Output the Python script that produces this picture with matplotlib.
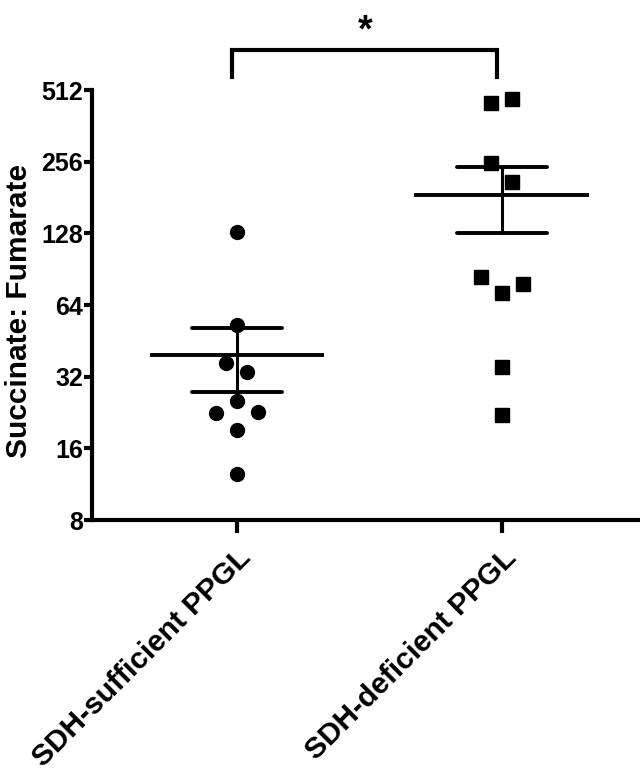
import numpy as np
import matplotlib.pyplot as plt

plt.rcParams['font.family'] = ['Liberation Sans', 'DejaVu Sans']
plt.rcParams['font.weight'] = 'bold'

groups = ["SDH-sufficient PPGL", "SDH-deficient PPGL"]
sdh_sufficient = [130, 52.7, 36.6, 33.6, 25.4, 22.5, 22.7, 19.1, 12.5]
sdh_deficient = [450, 468, 253, 210, 83.6, 71.7, 78.2, 35, 22.1]
yticks = [8, 16, 32, 64, 128, 256, 512]

# horizontal spread of the points (in steps)
jitter1 = [0, 0, -0.5, 0.5, 0, -1, 1, 0, 0]
jitter2 = [-0.5, 0.5, -0.5, 0.5, -1, 0, 1, 0, 0]
step = 0.079

fig = plt.figure(figsize=(6.4, 7.77), dpi=100)
ax = fig.add_axes([92 / 640, 257 / 777, 548 / 640, 430 / 777])

for i, (vals, jit, mk) in enumerate([(sdh_sufficient, jitter1, 'o'),
                                     (sdh_deficient, jitter2, 's')]):
    vals = np.array(vals)
    xs = i + np.array(jit) * step
    ax.plot(xs, vals, mk, color='black', markersize=10, linestyle='none',
            clip_on=False, zorder=3)
    mean = vals.mean()
    sem = vals.std(ddof=1) / np.sqrt(len(vals))
    ax.plot([i - 0.33, i + 0.33], [mean, mean], color='black', lw=2.8,
            solid_capstyle='butt')
    ax.plot([i, i], [mean - sem, mean + sem], color='black', lw=2.2)
    for v in (mean - sem, mean + sem):
        ax.plot([i - 0.17, i + 0.17], [v, v], color='black', lw=2.8,
                solid_capstyle='round')

ax.set_yscale('log', base=2)
ax.set_ylim(8, 512)
ax.set_xlim(-0.547, 1.521)
ax.set_yticks(yticks)
ax.set_yticklabels([str(t) for t in yticks])
ax.minorticks_off()
ax.set_xticks([0, 1])
ax.set_xticklabels(groups, rotation=45, ha='right', rotation_mode='anchor',
                   fontsize=21.5, fontweight='bold')
ax.tick_params(axis='y', labelsize=18, width=3, length=6, direction='out', pad=0.5)
ax.tick_params(axis='x', width=3, length=9, direction='out', pad=8)
for lab in ax.get_yticklabels():
    lab.set_fontweight('bold')

ax.spines['top'].set_visible(False)
ax.spines['right'].set_visible(False)
ax.spines['left'].set_linewidth(3)
ax.spines['bottom'].set_linewidth(3)

ax.set_ylabel("Succinate: Fumarate", fontsize=21.5, fontweight='bold')
ax.yaxis.set_label_coords(-0.107, 0.486)

# significance bracket
bx = [-0.017, -0.017, 0.983, 0.983]
by = [580, 754, 754, 580]
ax.plot(bx, by, color='black', lw=3, clip_on=False, solid_joinstyle='miter')
ax.text(0.483, 900, "*", ha='center', va='center', fontsize=27,
        fontweight='bold', clip_on=False)

fig.savefig("out.png", dpi=100)
